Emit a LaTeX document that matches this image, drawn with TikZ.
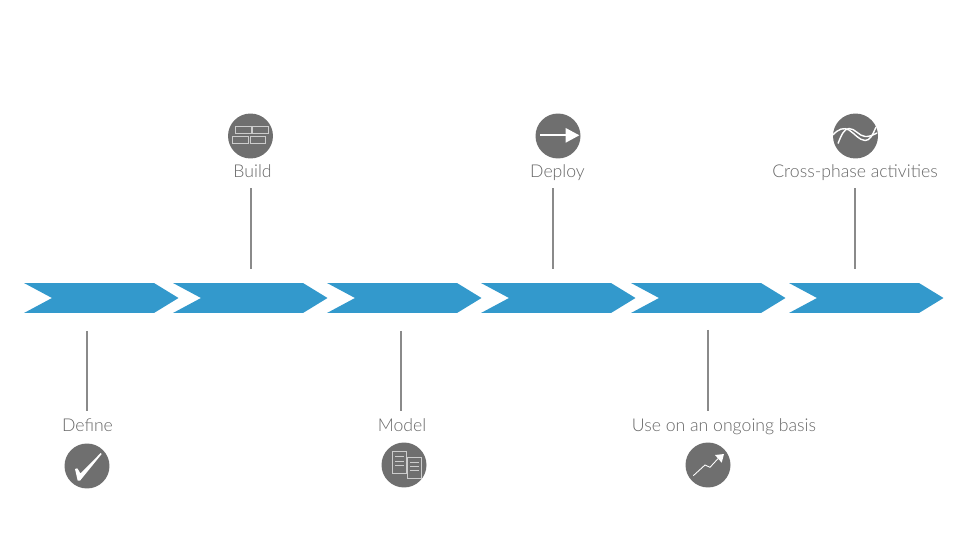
\documentclass[tikz,border=0pt]{standalone}
\usepackage{fontspec}
\setmainfont{Lato Light}
\usepackage{xcolor}
\definecolor{barblue}{HTML}{3399CC}
\definecolor{icongray}{HTML}{6F6F6F}
\definecolor{labelgray}{HTML}{666666}
\definecolor{stemgray}{HTML}{8A8A8A}
\usetikzlibrary{positioning}

\begin{document}
\begin{tikzpicture}[
    x=0.02cm, y=-0.02cm,
    font=\fontsize{10.05}{12}\selectfont,
    chevron/.style={anchor=west, minimum width=3.09cm, minimum height=0.6cm, inner sep=0pt, outer sep=0pt,
      path picture={\fill[barblue] (path picture bounding box.north west) -- ++(130,0) -- ++(24.5,15) -- ++(-24.5,15) -- ++(-130,0) -- ++(28,-15) -- cycle;}},
    badge/.style={circle, fill=icongray, minimum size=0.9cm, inner sep=0pt},
    phase/.style={anchor=base, text=labelgray, inner sep=0pt, text height=0.41cm, text depth=0.21cm},
    stem/.style={line width=0.6pt, draw=stemgray},
    glyph/.style={draw=white!80!black, line width=0.55pt},
    mark line/.style={draw=white, line width=0.9pt}
  ]
  \useasboundingbox (0,0) rectangle (960,560);

  % Chevron bar
  \node[chevron] (define bar) at (24,298) {};
  \node[chevron] (build bar) at (173,298) {};
  \node[chevron] (model bar) at (327,298) {};
  \node[chevron] (deploy bar) at (481,298) {};
  \node[chevron] (use bar) at (631,298) {};
  \node[chevron] (cross bar) at (789,298) {};

  % Upper phases
  \node[badge] (build icon) at (250.5,136) {};
  \node[badge] (deploy icon) at (558,136) {};
  \node[badge] (cross icon) at (855.5,136) {};
  \node[phase] (build) at (252.5,177.5) {Build};
  \node[phase] (deploy) at (557.5,177.5) {Deploy};
  \node[phase] (cross) at (855,177.5) {Cross-phase activities};

  % Lower phases
  \node[phase] (define) at (87.5,431.5) {Define};
  \node[phase] (model) at (402,431.5) {Model};
  \node[phase] (use) at (724,431.5) {Use on an ongoing basis};
  \node[badge] (define icon) at (87,466) {};
  \node[badge] (model icon) at (404,465) {};
  \node[badge] (use icon) at (708,465) {};

  % Stems
  \coordinate (build end) at (251,269);
  \coordinate (deploy end) at (553,269);
  \coordinate (cross end) at (855,269);
  \coordinate (define end) at (87,331);
  \coordinate (model end) at (401,331);
  \coordinate (use end) at (708,330);
  \draw[stem] (build end) -- (build end |- build.south);
  \draw[stem] (deploy end) -- (deploy end |- deploy.south);
  \draw[stem] (cross end) -- (cross end |- cross.south);
  \draw[stem] (define end) -- (define end |- define.north);
  \draw[stem] (model end) -- (model end |- model.north);
  \draw[stem] (use end) -- (use end |- use.north);

  % Bricks
  \draw[glyph] (235.3,126) rectangle (251,133.3);
  \draw[glyph] (252.3,126) rectangle (268.3,133.3);
  \draw[glyph] (232.7,136) rectangle (248.7,143.3);
  \draw[glyph] (250,136) rectangle (265.3,143.3);

  % Arrow
  \draw[mark line, line width=1pt] (540,135.3) -- (566,135.3);
  \fill[white] (565.7,128) -- (579.3,135.3) -- (565.7,142.7) -- cycle;

  % Waves
  \draw[mark line, line width=0.8pt] (833,135) .. controls (838,129) and (844,127) .. (849,130) .. controls (855,134) and (859,140) .. (865,140.5) .. controls (870,141) and (873,134) .. (876,127);
  \draw[mark line, line width=0.8pt] (838,143.5) .. controls (841,136) and (844,128.5) .. (849,128.5) .. controls (855,128.5) and (859,136) .. (865,136.5) .. controls (869,137) and (873,135) .. (877,133);

  % Tick
  \fill[white] (75,469) -- (77.3,468.3) -- (80.5,473.5) -- (100.7,453) -- (101.7,454) -- (80,480.7) -- (77.7,480.7) -- cycle;

  % Documents
  \draw[glyph] (392.3,451.7) rectangle (406.7,473.3);
  \draw[glyph, fill=icongray] (407.7,457.7) rectangle (421.7,478.3);
  \foreach \y in {456.7,461.7,465} \draw[glyph] (395,\y) -- (404,\y);
  \foreach \y in {462.3,466.7,470.7} \draw[glyph] (410,\y) -- (419,\y);

  % Trend
  \draw[draw=white, line width=0.5pt] (693.3,475.7) -- (705,465) -- (710,467.3) -- (718.3,458.3);
  \fill[white] (715,455) -- (724,454) -- (721.7,462.7) -- cycle;

\end{tikzpicture}
\end{document}
